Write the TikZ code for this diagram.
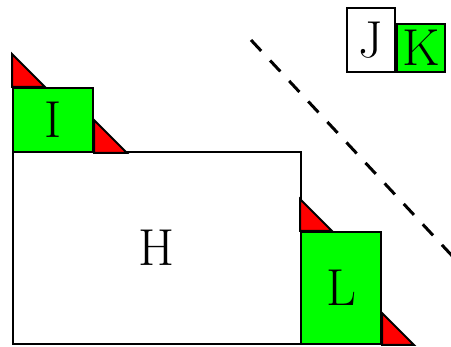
\documentclass[tikz,border=0pt]{standalone}
\begin{document}
\begin{tikzpicture}[x=1pt,y=-1pt,line width=2pt,
  box/.style={draw=black,line width=2pt,inner sep=0pt,font=\fontsize{52}{60}\selectfont},
  greenbox/.style={box,fill=green},
  wedge/.style={draw=black,fill=red,line width=2pt,line join=miter}]
\useasboundingbox (0,0) rectangle (451,347);
% main blocks
\node[box,minimum width=288pt,minimum height=192pt] (H) at (157,248) {H};
\node[greenbox,minimum width=80pt,minimum height=64pt] (I) at (53,120) {I};
\node[greenbox,minimum width=80pt,minimum height=112pt] (L) at (341,288) {L};
% legend pair
\node[box,fill=white,minimum width=48pt,minimum height=64pt] (J) at (371,40) {J};
\node[greenbox,minimum width=48pt,minimum height=48pt,anchor=south west] (K) at (J.south east) {K};
% red corner wedges
\draw[wedge] (I.north west) -- ++(0,-33) -- ++(33,33) -- cycle;
\draw[wedge] (I.south east) -- ++(0,-33) -- ++(33,33) -- cycle;
\draw[wedge] (L.north west) -- ++(0,-32) -- ++(32,32) -- cycle;
\draw[wedge] (L.south east) -- ++(0,-32) -- ++(32,32) -- cycle;
% dashed diagonal
\coordinate (d1) at (251,40);
\coordinate (d2) at (456,260);
\draw[line width=3pt,dash pattern=on 15pt off 13pt] (d1) -- (d2);
\end{tikzpicture}
\end{document}
